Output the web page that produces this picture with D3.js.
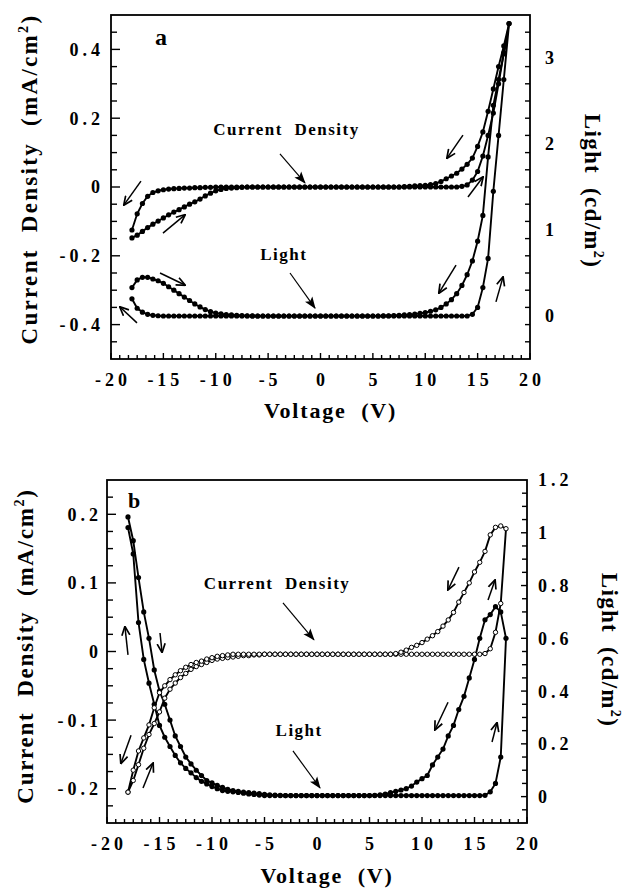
<!DOCTYPE html>
<html lang="en">
<head>
<meta charset="UTF-8">
<title>Current Density and Light vs Voltage</title>
<script src="https://cdn.jsdelivr.net/npm/d3@7"></script>
<style>
  body { margin: 0; background: white; }
  svg text { font-family: "Liberation Serif", "Times New Roman", serif; font-weight: bold; fill: black; }
</style>
</head>
<body>
<svg id="chart" width="628" height="888"></svg>
<script>
// sweep voltages (V), shared by every series; up = -18 -> 18, down = 18 -> -18 (stored in ascending order)
const voltage = [
  -18, -17.5, -17, -16.5, -16, -15.5, -15, -14.5, -14, -13.5,
  -13, -12.5, -12, -11.5, -11, -10.5, -10, -9.5, -9, -8.5,
  -8, -7.5, -7, -6.5, -6, -5.5, -5, -4.5, -4, -3.5,
  -3, -2.5, -2, -1.5, -1, -0.5, 0, 0.5, 1, 1.5,
  2, 2.5, 3, 3.5, 4, 4.5, 5, 5.5, 6, 6.5,
  7, 7.5, 8, 8.5, 9, 9.5, 10, 10.5, 11, 11.5,
  12, 12.5, 13, 13.5, 14, 14.5, 15, 15.5, 16, 16.5,
  17, 17.5, 18
];

// panel a, current density (mA/cm2)
const aCurrentUp = [
  -0.148, -0.140, -0.129, -0.118, -0.108, -0.099, -0.090, -0.081, -0.073, -0.066,
  -0.058, -0.050, -0.043, -0.035, -0.026, -0.018, -0.011, -0.007, -0.004, -0.003,
  -0.002, -0.001, 0, 0, 0, 0, 0, 0, 0, 0,
  0, 0, 0, 0, 0, 0, 0, 0, 0, 0,
  0, 0, 0, 0, 0, 0, 0, 0, 0, 0,
  0, 0, 0, 0, 0, 0, 0, 0, 0, 0,
  0, 0, 0, 0.002, 0.006, 0.020, 0.045, 0.090, 0.150, 0.215,
  0.300, 0.390, 0.475
];
const aCurrentDown = [
  -0.125, -0.078, -0.048, -0.027, -0.016, -0.011, -0.008, -0.006, -0.005, -0.004,
  -0.003, -0.003, -0.002, -0.002, -0.001, -0.001, 0, 0, 0, 0,
  0, 0, 0, 0, 0, 0, 0, 0, 0, 0,
  0, 0, 0, 0, 0, 0, 0, 0, 0, 0,
  0, 0, 0, 0, 0, 0, 0, 0, 0, 0,
  0, 0, 0.001, 0.002, 0.003, 0.004, 0.005, 0.007, 0.010, 0.016,
  0.024, 0.032, 0.040, 0.052, 0.066, 0.084, 0.118, 0.160, 0.220, 0.285,
  0.350, 0.410, 0.475
];
// panel a, light (cd/m2)
const aLightUp = [
  0.33, 0.42, 0.45, 0.45, 0.43, 0.41, 0.38, 0.34, 0.30, 0.26,
  0.22, 0.18, 0.14, 0.105, 0.075, 0.05, 0.035, 0.025, 0.017, 0.012,
  0.008, 0.005, 0.003, 0.001, 0, 0, 0, 0, 0, 0,
  0, 0, 0, 0, 0, 0, 0, 0, 0, 0,
  0, 0, 0, 0, 0, 0, 0, 0, 0, 0,
  0, 0, 0, 0, 0, 0, 0, 0, 0, 0,
  0, 0, 0, 0, 0, 0.02, 0.10, 0.33, 0.67, 1.45,
  2.10, 2.75, 3.40
];
const aLightDown = [
  0.20, 0.09, 0.045, 0.02, 0.008, 0.003, 0, 0, 0, 0,
  0, 0, 0, 0, 0, 0, 0, 0, 0, 0,
  0, 0, 0, 0, 0, 0, 0, 0, 0, 0,
  0, 0, 0, 0, 0, 0, 0, 0, 0, 0,
  0, 0, 0, 0, 0, 0, 0, 0, 0.002, 0.003,
  0.005, 0.008, 0.012, 0.016, 0.022, 0.030, 0.040, 0.055, 0.072, 0.100,
  0.14, 0.19, 0.26, 0.355, 0.48, 0.64, 0.87, 1.17, 1.85, 2.45,
  2.75, 3.05, 3.40
];

// panel b, current density (mA/cm2)
const bCurrentUp = [
  -0.205, -0.188, -0.165, -0.141, -0.121, -0.105, -0.088, -0.068, -0.055, -0.046,
  -0.038, -0.032, -0.026, -0.022, -0.019, -0.016, -0.013, -0.011, -0.010, -0.009,
  -0.008, -0.007, -0.006, -0.006, -0.005, -0.005, -0.004, -0.004, -0.004, -0.004,
  -0.004, -0.004, -0.004, -0.004, -0.004, -0.004, -0.004, -0.004, -0.004, -0.004,
  -0.004, -0.004, -0.004, -0.004, -0.004, -0.004, -0.004, -0.004, -0.004, -0.004,
  -0.004, -0.004, -0.004, -0.004, -0.004, -0.004, -0.004, -0.004, -0.004, -0.004,
  -0.004, -0.004, -0.004, -0.004, -0.004, -0.004, -0.004, -0.004, -0.003, 0.004,
  0.028, 0.070, 0.179
];
const bCurrentDown = [
  -0.205, -0.173, -0.145, -0.126, -0.107, -0.082, -0.060, -0.050, -0.041, -0.034,
  -0.028, -0.023, -0.019, -0.016, -0.014, -0.011, -0.009, -0.007, -0.006, -0.005,
  -0.004, -0.004, -0.004, -0.004, -0.004, -0.004, -0.004, -0.004, -0.004, -0.004,
  -0.004, -0.004, -0.004, -0.004, -0.004, -0.004, -0.004, -0.004, -0.004, -0.004,
  -0.004, -0.004, -0.004, -0.004, -0.004, -0.004, -0.004, -0.004, -0.004, -0.004,
  -0.004, -0.003, -0.001, 0.002, 0.006, 0.009, 0.013, 0.018, 0.023, 0.029,
  0.037, 0.046, 0.057, 0.072, 0.086, 0.100, 0.116, 0.130, 0.146, 0.170,
  0.181, 0.183, 0.179
];
// panel b, light (cd/m2)
const bLightUp = [
  1.06, 0.97, 0.83, 0.70, 0.60, 0.48, 0.40, 0.35, 0.29, 0.23,
  0.19, 0.15, 0.124, 0.10, 0.08, 0.061, 0.052, 0.043, 0.035, 0.028,
  0.023, 0.020, 0.017, 0.015, 0.013, 0.011, 0.009, 0.007, 0.006, 0.005,
  0.004, 0.004, 0.004, 0.004, 0.004, 0.004, 0.004, 0.004, 0.004, 0.004,
  0.004, 0.004, 0.004, 0.004, 0.004, 0.004, 0.004, 0.004, 0.004, 0.004,
  0.004, 0.004, 0.004, 0.004, 0.004, 0.004, 0.004, 0.004, 0.004, 0.004,
  0.004, 0.004, 0.004, 0.004, 0.004, 0.004, 0.004, 0.004, 0.005, 0.018,
  0.05, 0.15, 0.60
];
const bLightDown = [
  1.02, 0.92, 0.66, 0.52, 0.43, 0.35, 0.27, 0.225, 0.19, 0.156,
  0.128, 0.107, 0.09, 0.072, 0.058, 0.048, 0.038, 0.030, 0.023, 0.020,
  0.018, 0.016, 0.013, 0.010, 0.008, 0.006, 0.004, 0.004, 0.004, 0.004,
  0.004, 0.004, 0.004, 0.004, 0.004, 0.004, 0.004, 0.004, 0.004, 0.004,
  0.004, 0.004, 0.004, 0.004, 0.004, 0.004, 0.004, 0.005, 0.007, 0.010,
  0.015, 0.020, 0.025, 0.030, 0.040, 0.055, 0.068, 0.080, 0.120, 0.150,
  0.18, 0.23, 0.27, 0.33, 0.38, 0.45, 0.52, 0.60, 0.67, 0.69,
  0.72, 0.70, 0.60
];

// tick labels
const xTicks = [-20, -15, -10, -5, 0, 5, 10, 15, 20];
const aLeftTicks = [-0.4, -0.2, 0, 0.2, 0.4];
const aRightTicks = [0, 1, 2, 3];
const bLeftTicks = [-0.2, -0.1, 0, 0.1, 0.2];
const bRightTicks = [0, 0.2, 0.4, 0.6, 0.8, 1, 1.2];

const svg = d3.select("#chart");
const defs = svg.append("defs");

defs.append("marker")
  .attr("id", "bighead")
  .attr("viewBox", "0 0 12 10")
  .attr("refX", 11).attr("refY", 5)
  .attr("markerWidth", 13).attr("markerHeight", 10)
  .attr("markerUnits", "userSpaceOnUse")
  .attr("orient", "auto")
  .append("path")
  .attr("d", "M0,0.5 L12,5 L0,9.5 L2.5,5 Z")
  .attr("fill", "black");

defs.append("marker")
  .attr("id", "smallhead")
  .attr("viewBox", "0 0 10 10")
  .attr("refX", 9).attr("refY", 5)
  .attr("markerWidth", 10).attr("markerHeight", 10)
  .attr("markerUnits", "userSpaceOnUse")
  .attr("orient", "auto")
  .append("path")
  .attr("d", "M0.5,1 L9.5,5 L0.5,9")
  .attr("fill", "none")
  .attr("stroke", "black")
  .attr("stroke-width", 1.7);

const fmt = d => String(+d.toFixed(2));
const tickFont = 18, tickSpacing = 4;

function loop(up, down) {
  const forward = voltage.map((v, i) => [v, up[i]]);
  const back = voltage.map((v, i) => [v, down[i]]).reverse();
  return forward.concat(back.slice(1));
}

function drawPanel(p) {
  const x = d3.scaleLinear().domain([-20, 20]).range([p.left, p.right]);
  const yL = d3.scaleLinear().domain(p.leftDomain).range([p.bottom, p.top]);
  const yR = d3.scaleLinear().domain(p.rightDomain).range([p.bottom, p.top]);
  const g = svg.append("g");

  // frame
  g.append("rect")
    .attr("x", p.left).attr("y", p.top)
    .attr("width", p.right - p.left).attr("height", p.bottom - p.top)
    .attr("fill", "none").attr("stroke", "black").attr("stroke-width", 1.8);

  // x ticks: 5 minor ticks between majors
  const xMinor = d3.range(49).map(k => -20 + k * 5 / 6);
  g.append("g").selectAll("line").data(xMinor).join("line")
    .attr("x1", d => x(d)).attr("x2", d => x(d))
    .attr("y1", p.bottom).attr("y2", (d, i) => p.bottom - (i % 6 === 0 ? 6 : 4))
    .attr("stroke", "black").attr("stroke-width", 1.4);
  g.append("g").selectAll("text").data(xTicks).join("text")
    .attr("x", d => x(d) + tickSpacing / 2)
    .attr("y", p.xLabelY)
    .attr("text-anchor", "middle")
    .attr("font-size", tickFont)
    .attr("letter-spacing", tickSpacing)
    .text(fmt);

  // left axis ticks
  g.append("g").selectAll("line").data(p.leftMinor).join("line")
    .attr("x1", p.left).attr("x2", d => p.left + (p.leftMajor(d) ? 9 : 6))
    .attr("y1", d => yL(d)).attr("y2", d => yL(d))
    .attr("stroke", "black").attr("stroke-width", 1.4);
  g.append("g").selectAll("text").data(p.leftTicks).join("text")
    .attr("x", p.leftLabelX + tickSpacing)
    .attr("y", d => yL(d))
    .attr("dy", "0.36em")
    .attr("text-anchor", "end")
    .attr("font-size", tickFont)
    .attr("letter-spacing", tickSpacing)
    .text(fmt);

  // right axis ticks
  g.append("g").selectAll("line").data(p.rightMinor).join("line")
    .attr("x1", p.right).attr("x2", d => p.right - (p.rightMajor(d) ? 6 : 5))
    .attr("y1", d => yR(d)).attr("y2", d => yR(d))
    .attr("stroke", "black").attr("stroke-width", 1.4);
  g.append("g").selectAll("text").data(p.rightTicks).join("text")
    .attr("x", p.rightLabelX)
    .attr("y", d => yR(d))
    .attr("dy", "0.36em")
    .attr("text-anchor", "start")
    .attr("font-size", tickFont)
    .attr("letter-spacing", tickSpacing)
    .text(fmt);

  // series
  p.series.forEach(s => {
    const y = s.axis === "right" ? yR : yL;
    const pts = loop(s.up, s.down);
    g.append("path")
      .datum(pts)
      .attr("fill", "none")
      .attr("stroke", "black")
      .attr("stroke-width", 1.9)
      .attr("d", d3.line().x(d => x(d[0])).y(d => y(d[1])));
    g.append("g").selectAll("circle").data(pts).join("circle")
      .attr("cx", d => x(d[0]))
      .attr("cy", d => y(d[1]))
      .attr("r", s.open ? 2.2 : 2.6)
      .attr("fill", s.open ? "white" : "black")
      .attr("stroke", "black")
      .attr("stroke-width", s.open ? 1 : 0);
  });

  // annotations (positions in data units: volts, left-axis units)
  p.arrows.forEach(a => {
    g.append("line")
      .attr("x1", x(a[0][0])).attr("y1", yL(a[0][1]))
      .attr("x2", x(a[1][0])).attr("y2", yL(a[1][1]))
      .attr("stroke", "black")
      .attr("stroke-width", a[2] ? 1.2 : 1.5)
      .attr("marker-end", a[2] ? "url(#bighead)" : "url(#smallhead)");
  });
  p.labels.forEach(l => {
    g.append("text")
      .attr("x", x(l.v)).attr("y", yL(l.j))
      .attr("text-anchor", l.anchor || "middle")
      .attr("font-size", l.size)
      .attr("letter-spacing", l.ls || 0)
      .style("white-space", "pre")
      .text(l.text);
  });

  // axis titles
  g.append("text")
    .attr("x", (p.left + p.right) / 2 + 10)
    .attr("y", p.xTitleY)
    .attr("text-anchor", "middle")
    .attr("font-size", 22)
    .attr("letter-spacing", 1.8)
    .style("white-space", "pre")
    .text("Voltage  (V)");

  const lt = g.append("text")
    .attr("transform", `translate(${p.leftTitle[0]},${p.leftTitle[1]}) rotate(-90)`)
    .attr("text-anchor", "middle")
    .attr("font-size", p.titleSize)
    .attr("letter-spacing", p.titleSpacing)
    .style("white-space", "pre");
  lt.append("tspan").text("Current  Density  (mA/cm");
  lt.append("tspan").attr("dy", -9).attr("font-size", p.titleSize * 0.62).text("2");
  lt.append("tspan").attr("dy", 9).text(")");

  const rt = g.append("text")
    .attr("transform", `translate(${p.rightTitle[0]},${p.rightTitle[1]}) rotate(90)`)
    .attr("text-anchor", "middle")
    .attr("font-size", p.titleSize)
    .attr("letter-spacing", 1.3)
    .style("white-space", "pre");
  rt.append("tspan").text("Light  (cd/m");
  rt.append("tspan").attr("dy", -9).attr("font-size", p.titleSize * 0.62).text("2");
  rt.append("tspan").attr("dy", 9).text(")");
}

drawPanel({
  left: 111, right: 530, top: 15, bottom: 359,
  leftDomain: [-0.5, 0.5], rightDomain: [-0.5, 3.5],
  leftTicks: aLeftTicks, rightTicks: aRightTicks,
  leftMinor: d3.range(1, 20).map(k => -0.5 + k * 0.05),
  leftMajor: d => Math.abs(d * 5 - Math.round(d * 5)) < 1e-6,
  rightMinor: d3.range(1, 20).map(k => -0.5 + k * 0.2),
  rightMajor: d => Math.abs(d - Math.round(d)) < 1e-6,
  leftLabelX: 100, rightLabelX: 545, xLabelY: 386, xTitleY: 418,
  leftTitle: [37, 179], rightTitle: [585, 191], titleSize: 23, titleSpacing: 2.3,
  series: [
    { up: aLightUp, down: aLightDown, axis: "right", open: false },
    { up: aCurrentUp, down: aCurrentDown, axis: "left", open: false }
  ],
  arrows: [
    [[-17.14, 0.017], [-18.76, -0.052]],
    [[-15.04, -0.134], [-12.94, -0.081]],
    [[13.60, 0.151], [12.08, 0.084]],
    [[14.08, -0.029], [15.51, 0.029]],
    [[-17.52, -0.395], [-19.14, -0.349]],
    [[-15.32, -0.250], [-12.94, -0.285]],
    [[12.94, -0.227], [11.31, -0.308]],
    [[16.75, -0.334], [17.42, -0.262]],
    [[-3.87, 0.096], [-1.48, 0.012], true],
    [[-2.91, -0.250], [-0.52, -0.352], true]
  ],
  labels: [
    { text: "a", v: -15.8, j: 0.413, size: 24, anchor: "start" },
    { text: "Current  Density", v: -3.25, j: 0.151, size: 17, ls: 1.5 },
    { text: "Light", v: -3.5, j: -0.212, size: 17, ls: 1.5 }
  ]
});

drawPanel({
  left: 107, right: 527, top: 480, bottom: 823,
  leftDomain: [-0.25, 0.25], rightDomain: [-0.1, 1.2],
  leftTicks: bLeftTicks, rightTicks: bRightTicks,
  leftMinor: d3.range(1, 20).map(k => -0.25 + k * 0.025),
  leftMajor: d => Math.abs(d * 10 - Math.round(d * 10)) < 1e-6,
  rightMinor: d3.range(1, 26).map(k => -0.1 + k * 0.05),
  rightMajor: d => Math.abs(d * 5 - Math.round(d * 5)) < 1e-6,
  leftLabelX: 98, rightLabelX: 538, xLabelY: 850, xTitleY: 883,
  leftTitle: [33, 646], rightTitle: [602, 650], titleSize: 23, titleSpacing: 1.7,
  series: [
    { up: bLightUp, down: bLightDown, axis: "right", open: false },
    { up: bCurrentUp, down: bCurrentDown, axis: "left", open: true }
  ],
  arrows: [
    [[-18.00, -0.005], [-18.29, 0.036]],
    [[-14.95, 0.027], [-14.76, -0.001]],
    [[-17.71, -0.122], [-18.67, -0.163]],
    [[-16.57, -0.199], [-15.62, -0.163]],
    [[13.52, 0.123], [12.48, 0.090]],
    [[16.29, 0.075], [16.95, 0.104]],
    [[12.48, -0.074], [11.24, -0.114]],
    [[16.67, -0.132], [17.14, -0.104]],
    [[-3.24, 0.071], [-0.29, 0.017], true],
    [[-2.29, -0.145], [0.29, -0.199], true]
  ],
  labels: [
    { text: "b", v: -18.0, j: 0.209, size: 22, anchor: "start" },
    { text: "Current  Density", v: -3.8, j: 0.091, size: 17, ls: 1.5 },
    { text: "Light", v: -1.7, j: -0.123, size: 17, ls: 1.5 }
  ]
});
</script>
</body>
</html>
